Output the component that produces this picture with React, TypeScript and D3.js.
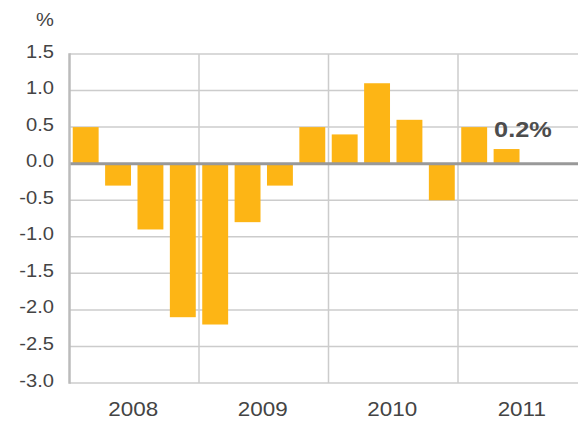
import * as d3 from "d3";
import React from "react";

const years = ["2008", "2009", "2010", "2011"];
const quarters = ["Q1", "Q2", "Q3", "Q4"];
// quarterly growth, 2008 Q1 .. 2011 Q2
const values = [0.5, -0.3, -0.9, -2.1, -2.2, -0.8, -0.3, 0.5, 0.4, 1.1, 0.6, -0.5, 0.5, 0.2];
const yTicks = [1.5, 1.0, 0.5, 0.0, -0.5, -1.0, -1.5, -2.0, -2.5, -3.0];
const lastLabel = "0.2%";

const width = 578;
const height = 421;
const font = "'Liberation Sans', Arial, Helvetica, sans-serif";
const stretch = 1.15; // source text looks horizontally widened

export default function App() {
  const x0 = 69.5;
  const yearW = 129.5;
  const slots = years.flatMap((yr) => quarters.map((q) => `${yr}-${q}`));

  const x = d3
    .scaleBand<string>()
    .domain(slots)
    .range([x0, x0 + yearW * years.length])
    .paddingInner(0.2)
    .paddingOuter(0.1);

  const xYear = d3
    .scaleBand<string>()
    .domain(years)
    .range([x0, x0 + yearW * years.length]);

  const y = d3.scaleLinear().domain([-3, 1.5]).range([383, 54]);

  const lastIdx = values.length - 1;

  return (
    <svg
      width={width}
      height={height}
      style={{ position: "absolute", left: 0, top: 0, background: "#fff" }}
    >
      {/* horizontal grid */}
      {yTicks.map((t) => (
        <line
          key={t}
          x1={x0}
          x2={width}
          y1={y(t)}
          y2={y(t)}
          stroke="#cccccc"
          strokeWidth={1.5}
        />
      ))}
      {/* year separators */}
      {years.slice(1).map((yr) => (
        <line
          key={yr}
          x1={xYear(yr)!}
          x2={xYear(yr)!}
          y1={y(1.5)}
          y2={y(-3)}
          stroke="#cccccc"
          strokeWidth={1.5}
        />
      ))}
      {/* bars */}
      {values.map((v, i) => (
        <rect
          key={i}
          x={x(slots[i])!}
          width={x.bandwidth()}
          y={y(Math.max(0, v))}
          height={Math.abs(y(v) - y(0))}
          fill="#fdb515"
        />
      ))}
      {/* zero line */}
      <line x1={x0} x2={width} y1={y(0)} y2={y(0)} stroke="#999999" strokeWidth={3} />
      {/* left axis */}
      <line x1={x0} x2={x0} y1={y(1.5) - 0.75} y2={y(-3) + 0.75} stroke="#bbbbbb" strokeWidth={2.5} />
      {/* y tick labels */}
      {yTicks.map((t) => (
        <text
          key={t}
          transform={`translate(54,${y(t) + 3.5}) scale(${stretch},1)`}
          textAnchor="end"
          fontFamily={font}
          fontSize={17.5}
          fill="#444"
        >
          {d3.format(".1f")(t).replace("−", "-")}
        </text>
      ))}
      <text
        transform={`translate(54,26) scale(${stretch},1)`}
        textAnchor="end"
        fontFamily={font}
        fontSize={17.5}
        fill="#444"
      >
        %
      </text>
      {/* year labels */}
      {years.map((yr) => (
        <text
          key={yr}
          transform={`translate(${xYear(yr)! + xYear.bandwidth() / 2 - 1},416) scale(${stretch},1)`}
          textAnchor="middle"
          fontFamily={font}
          fontSize={19.5}
          fill="#444"
        >
          {yr}
        </text>
      ))}
      {/* last value label */}
      <text
        transform={`translate(${x(slots[lastIdx])! + 0.5},137) scale(${stretch},1)`}
        fontFamily={font}
        fontSize={22}
        fontWeight="bold"
        fill="#4d4d4d"
      >
        {lastLabel}
      </text>
    </svg>
  );
}
